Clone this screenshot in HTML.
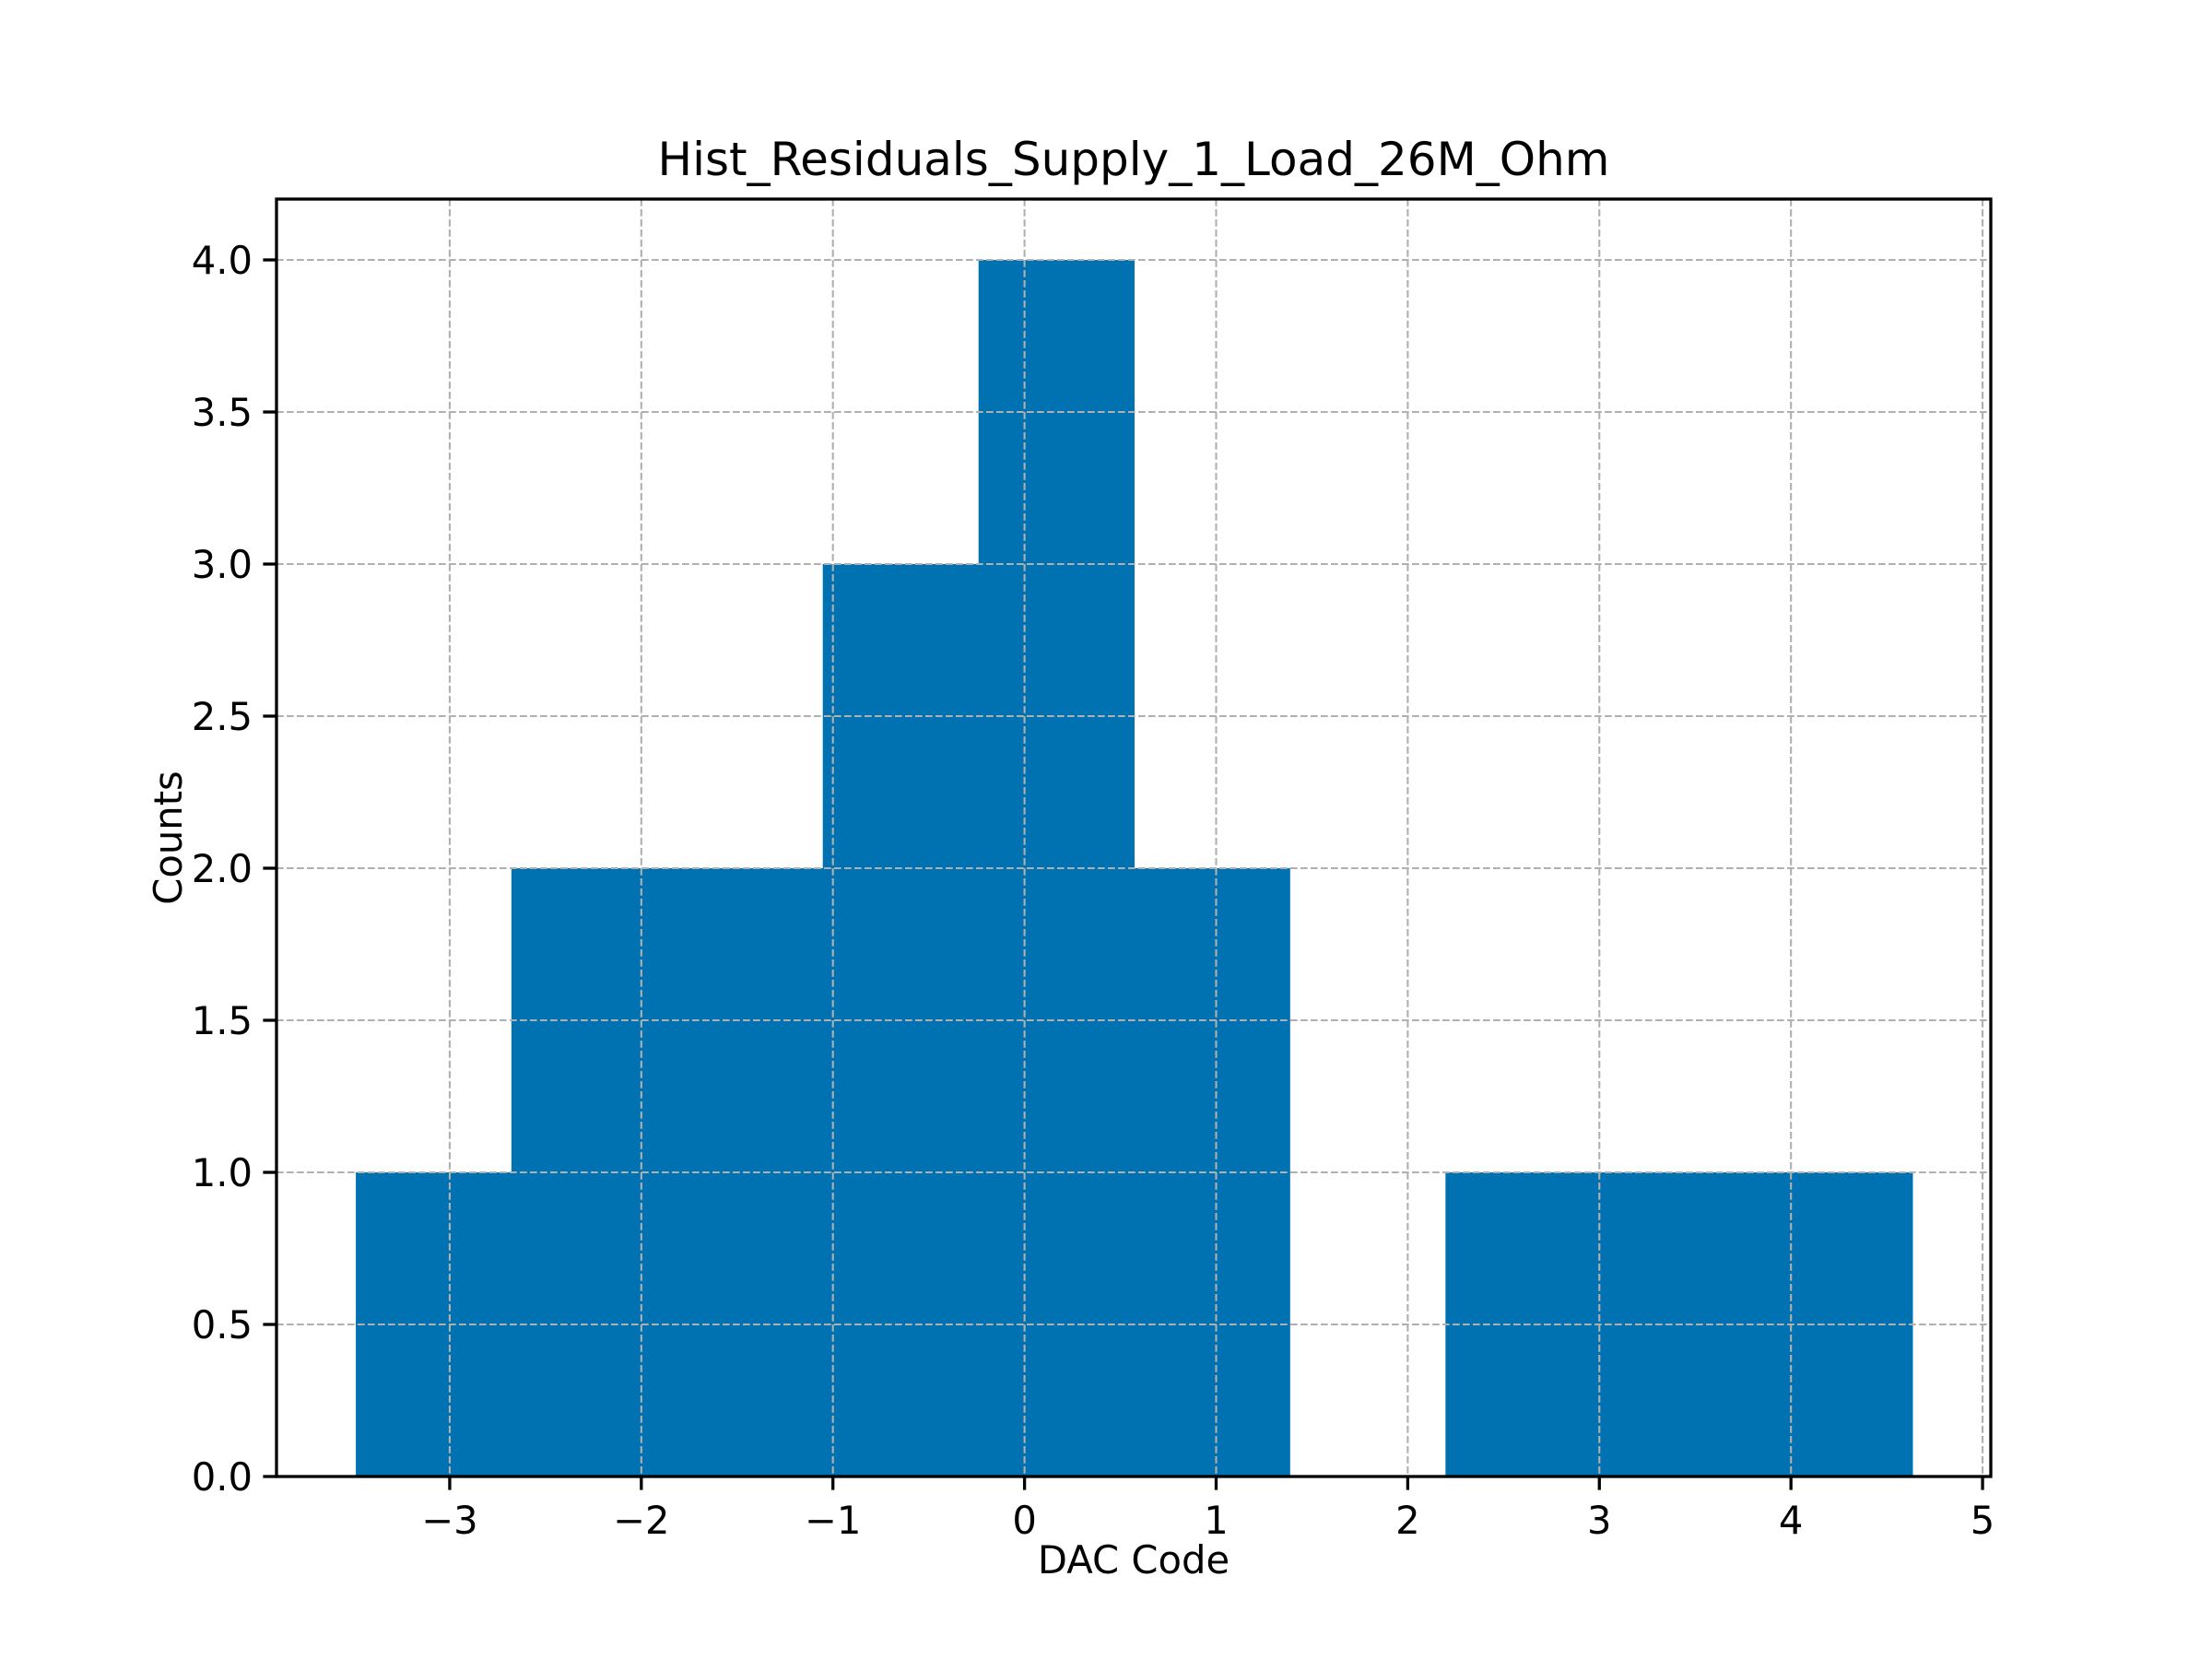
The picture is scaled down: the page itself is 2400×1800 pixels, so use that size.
<!DOCTYPE html>
<html><head><meta charset="utf-8"><style>
html,body{margin:0;padding:0;background:#fff;}
svg{display:block;font-family:"DejaVu Sans","Liberation Sans",sans-serif;}
</style></head><body>
<svg id="chart" width="2400" height="1800" viewBox="0 0 2400 1800" xmlns="http://www.w3.org/2000/svg">
<rect width="2400" height="1800" fill="#fff"/>
<g id="bars"></g><g id="grid"></g><g id="axes"></g>
<text x="1230" y="190" font-size="50" text-anchor="middle">Hist_Residuals_Supply_1_Load_26M_Ohm</text>
<text x="1230" y="1707" font-size="41.7" text-anchor="middle">DAC Code</text>
<text x="0" y="0" font-size="41.7" text-anchor="middle" transform="translate(197,909) rotate(-90)">Counts</text>
</svg>
<script>
const binEdges = [-3.49, -2.678, -1.865, -1.053, -0.240, 0.572, 1.384, 2.197, 3.009, 3.822, 4.634];
const counts = [1, 2, 2, 3, 4, 2, 0, 1, 1, 1];
const xTicks = [-3, -2, -1, 0, 1, 2, 3, 4, 5];
const xTickLabels = ["\u22123", "\u22122", "\u22121", "0", "1", "2", "3", "4", "5"];
const yTicks = [0, 0.5, 1, 1.5, 2, 2.5, 3, 3.5, 4];
const yTickLabels = ["0.0", "0.5", "1.0", "1.5", "2.0", "2.5", "3.0", "3.5", "4.0"];

const L=300,R=2160,T=216,B=1602;
const xMin=-3.904,xMax=5.043,yMin=0,yMax=4.2;
const X=v=>L+(v-xMin)/(xMax-xMin)*(R-L);
const Y=v=>B-(v-yMin)/(yMax-yMin)*(B-T);
const NS="http://www.w3.org/2000/svg";
function mk(tag,attrs,parent){const e=document.createElementNS(NS,tag);for(const k in attrs)e.setAttribute(k,attrs[k]);parent.appendChild(e);return e;}
const grid=document.getElementById('grid'),bars=document.getElementById('bars'),axes=document.getElementById('axes');
const gs={stroke:"#b0b0b0","stroke-width":2.1,"stroke-dasharray":"7.7,3.3"};
xTicks.forEach((t,i)=>{
  const g=mk('line',Object.assign({x1:X(t),x2:X(t),y1:T,y2:B},gs),grid);
  
  
  const tk=mk('line',{x1:X(t),x2:X(t),y1:B,y2:B+14.6,stroke:"#000","stroke-width":3.3},axes);
  
  
  const lb=mk('text',{x:X(t),y:B+62,"font-size":41.7,"text-anchor":"middle"},axes);
  lb.textContent=xTickLabels[i];
  
  
});
yTicks.forEach((t,i)=>{
  const g=mk('line',Object.assign({x1:L,x2:R,y1:Y(t),y2:Y(t)},gs),grid);
  
  
  const tk=mk('line',{x1:L-14.6,x2:L,y1:Y(t),y2:Y(t),stroke:"#000","stroke-width":3.3},axes);
  
  
  const lb=mk('text',{x:L-26,y:Y(t)+15,"font-size":41.7,"text-anchor":"end"},axes);
  lb.textContent=yTickLabels[i];
  
  
});
counts.forEach((c,i)=>{
  if(c<=0)return;
  const r=mk('rect',{x:X(binEdges[i]),y:Y(c),width:X(binEdges[i+1])-X(binEdges[i])+0.5,height:Y(0)-Y(c),fill:"#0072b2"},bars);
  
  
});
const f=mk('rect',{x:L,y:T,width:R-L,height:B-T,fill:"none",stroke:"#000","stroke-width":3.3},axes);


</script>
</body></html>
